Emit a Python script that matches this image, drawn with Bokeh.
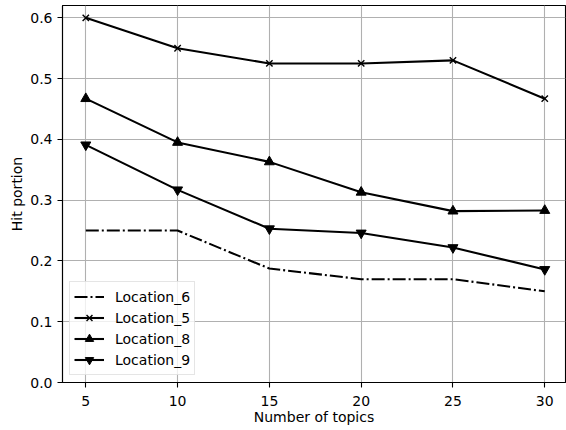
from bokeh.plotting import figure
from bokeh.models import Range1d, FixedTicker, PrintfTickFormatter
from bokeh.embed import file_html
from bokeh.resources import INLINE

# ---- data ----
topics = [5, 10, 15, 20, 25, 30]
location_6 = [0.25, 0.25, 0.1875, 0.17, 0.17, 0.15]
location_5 = [0.60, 0.55, 0.525, 0.525, 0.53, 0.467]
location_8 = [0.467, 0.395, 0.363, 0.313, 0.282, 0.283]
location_9 = [0.391, 0.317, 0.253, 0.246, 0.222, 0.186]

x_ticks = [5, 10, 15, 20, 25, 30]
y_ticks = [0.0, 0.1, 0.2, 0.3, 0.4, 0.5, 0.6]

FONT = "DejaVu Sans"
FS = "14px"

p = figure(width=566, height=430, output_backend="svg", toolbar_location=None,
           x_range=Range1d(3.731, 31.13), y_range=Range1d(0, 0.6203),
           min_border_left=62, min_border_right=1, min_border_top=5, min_border_bottom=48,
           x_axis_label="Number of topics", y_axis_label="Hit portion")

p.background_fill_color = "white"
p.border_fill_color = "white"
p.outline_line_color = "black"
p.outline_line_width = 1.1
p.outline_line_alpha = 1.0

for ax in (p.xaxis[0], p.yaxis[0]):
    ax.axis_line_color = "black"
    ax.axis_line_width = 1.1
    ax.major_tick_line_color = "black"
    ax.major_tick_line_width = 1.1
    ax.major_tick_out = 5
    ax.major_tick_in = 0
    ax.minor_tick_line_color = None
    ax.major_label_text_font = FONT
    ax.major_label_text_font_size = FS
    ax.major_label_text_color = "black"
    ax.axis_label_text_font = FONT
    ax.axis_label_text_font_size = FS
    ax.axis_label_text_font_style = "normal"
    ax.axis_label_text_color = "black"

p.xaxis.ticker = FixedTicker(ticks=x_ticks)
p.yaxis.ticker = FixedTicker(ticks=y_ticks)
p.yaxis.formatter = PrintfTickFormatter(format="%.1f")
p.xaxis.major_label_standoff = 8
p.xaxis.axis_label_standoff = 0
p.yaxis.major_label_standoff = 5
p.yaxis.axis_label_standoff = 2

for g in (p.xgrid[0], p.ygrid[0]):
    g.grid_line_color = "#b0b0b0"
    g.grid_line_width = 1.1

LW = 2.08

p.line(topics, location_6, line_color="black", line_width=LW, line_dash="13 3 2 3",
       legend_label="Location_6")

p.line(topics, location_5, line_color="black", line_width=LW, legend_label="Location_5")
p.scatter(topics, location_5, marker="x", size=9, line_color="black", line_width=1.4,
          legend_label="Location_5")

p.line(topics, location_8, line_color="black", line_width=LW, legend_label="Location_8")
p.scatter(topics, location_8, marker="triangle", size=10, line_color="black",
          fill_color="black", legend_label="Location_8")

p.line(topics, location_9, line_color="black", line_width=LW, legend_label="Location_9")
p.scatter(topics, location_9, marker="inverted_triangle", size=10, line_color="black",
          fill_color="black", legend_label="Location_9")

lg = p.legend[0]
lg.location = (7, 7)
lg.margin = 0
lg.padding = 4
lg.spacing = 0
lg.label_height = 21
lg.glyph_height = 21
lg.glyph_width = 30
lg.label_standoff = 11
lg.label_text_font = FONT
lg.label_text_font_size = FS
lg.label_text_color = "black"
lg.border_line_color = "#cccccc"
lg.border_line_width = 1.1
lg.background_fill_color = "white"
lg.background_fill_alpha = 0.8

open("out.html", "w").write(file_html(p, INLINE))
